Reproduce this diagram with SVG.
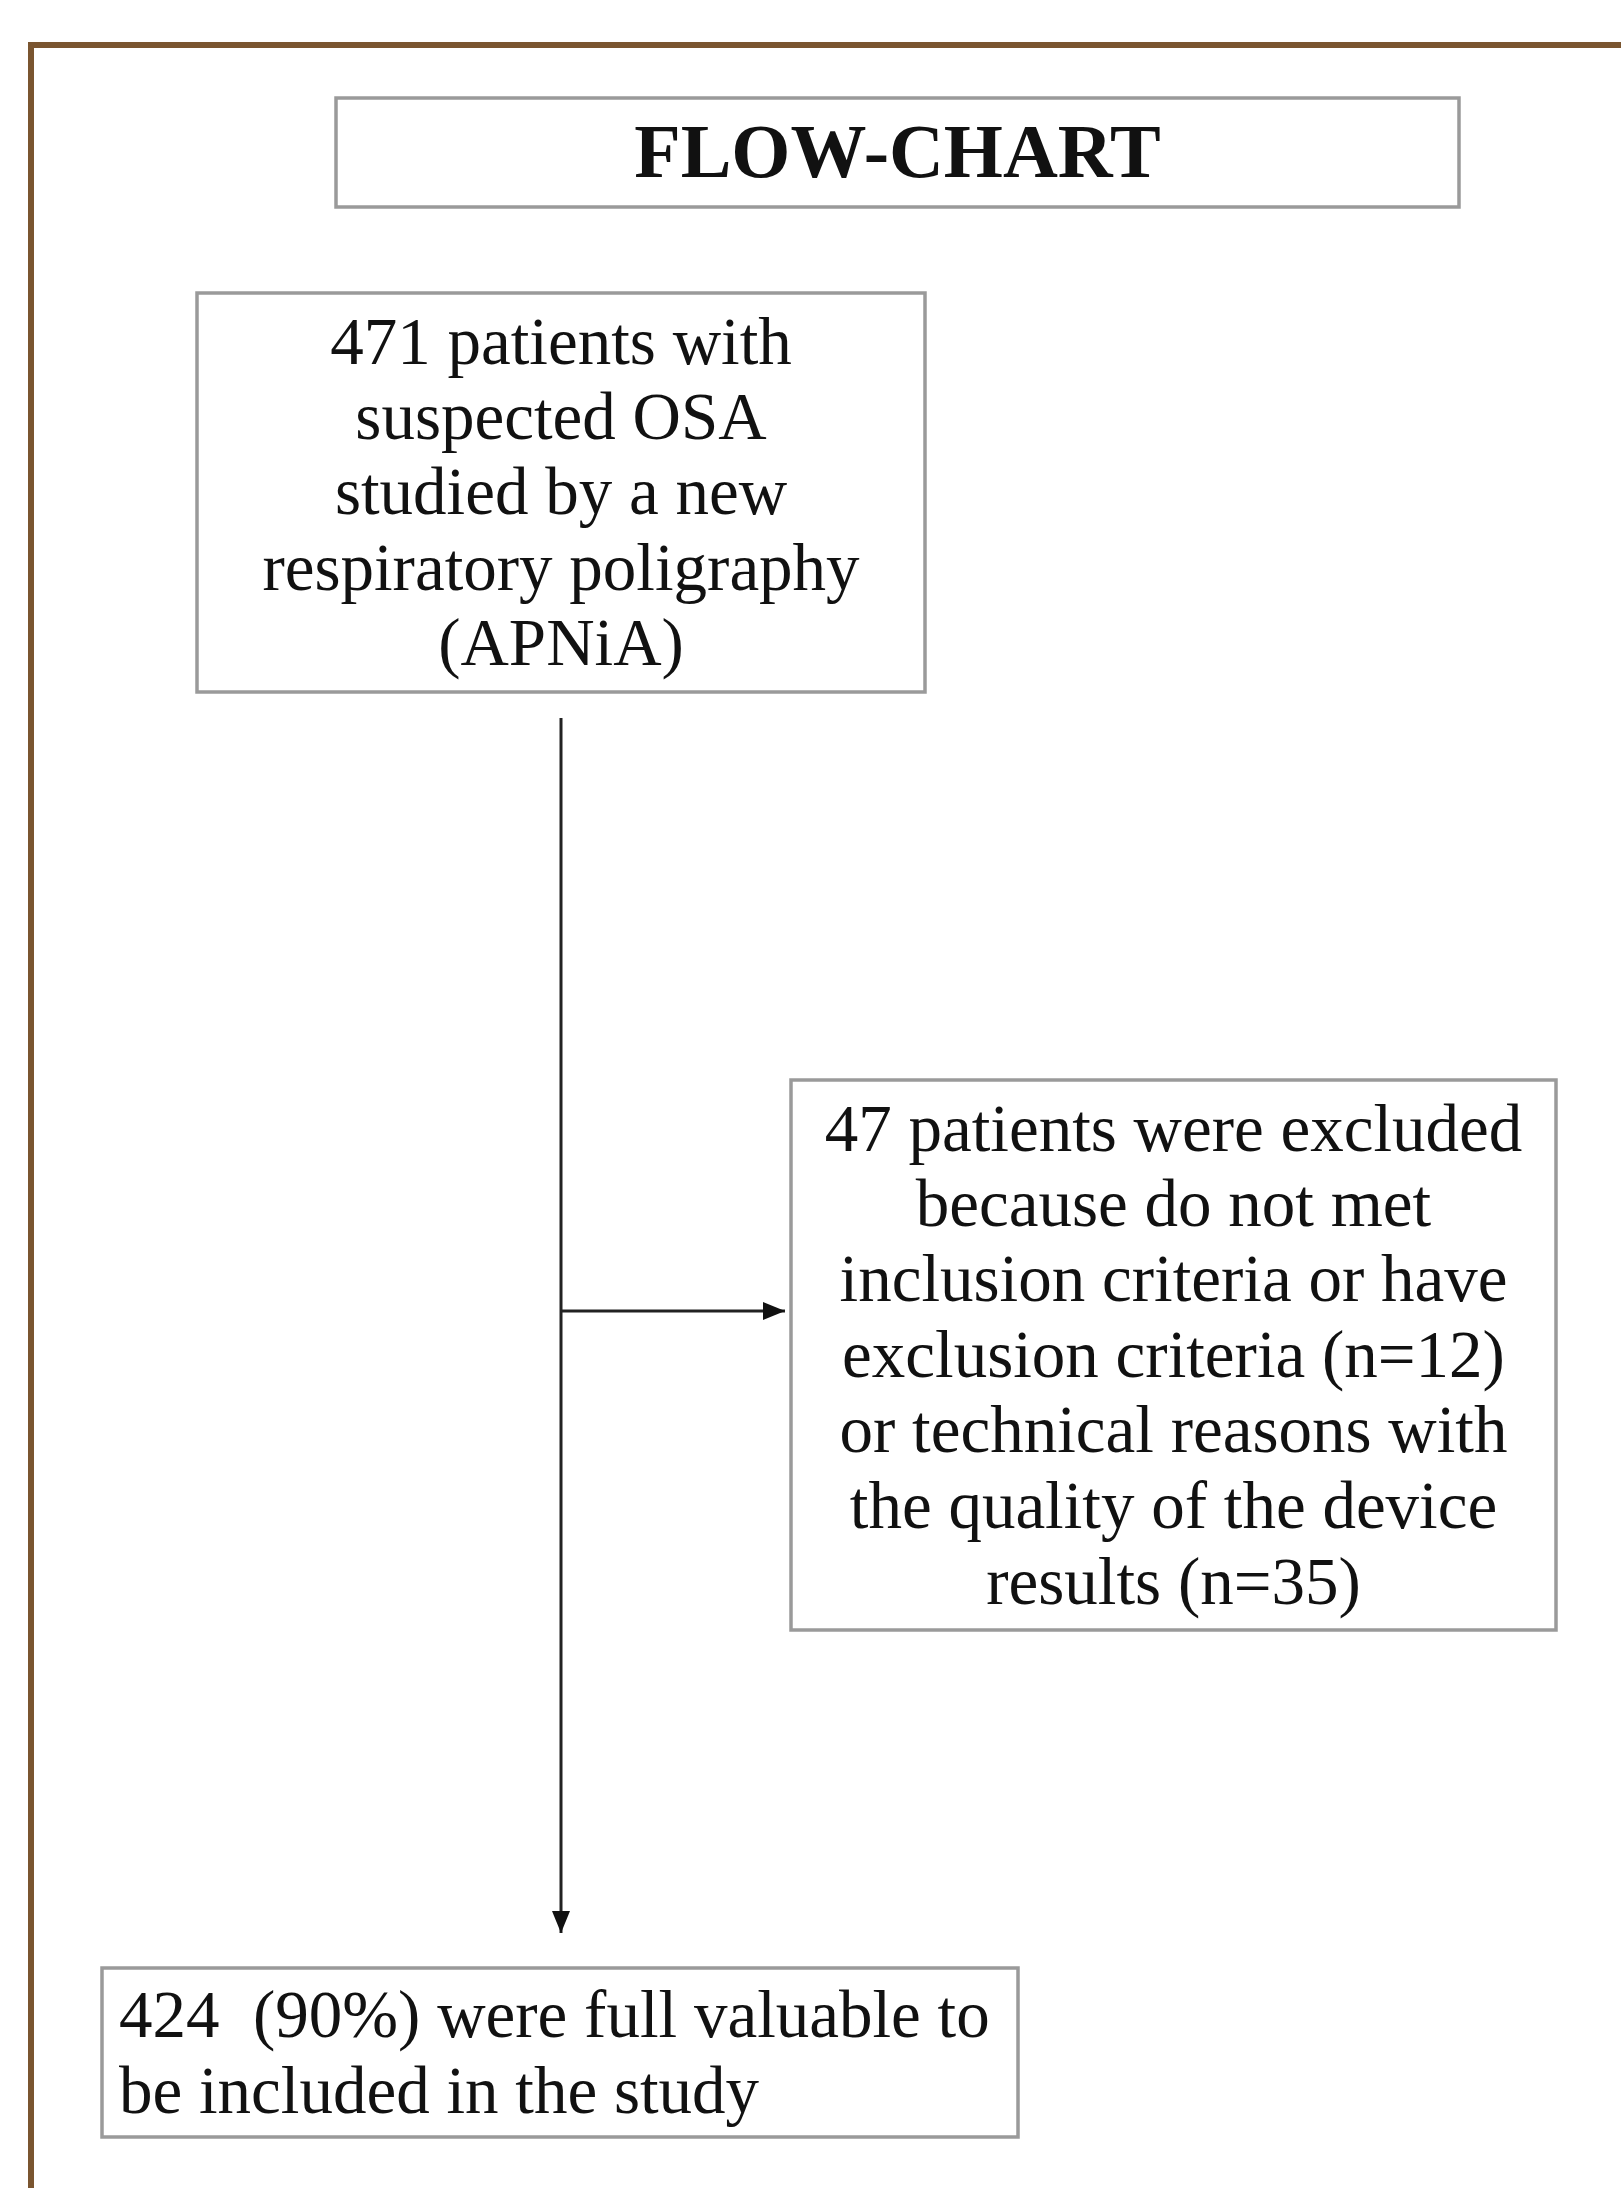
<svg xmlns="http://www.w3.org/2000/svg" width="1621" height="2188" viewBox="0 0 1621 2188">
<style>
.frame{fill:none;stroke:#7a5530;stroke-width:6}
.box{fill:#ffffff;stroke:#9a9a9a;stroke-width:3.5}
.t{font-family:"Liberation Serif","Times New Roman",serif;font-size:67px;fill:#111111}
.c{text-anchor:middle}
.title{font-family:"Liberation Serif","Times New Roman",serif;font-size:76px;font-weight:bold;fill:#111111;text-anchor:middle}
.conn{fill:none;stroke:#222222;stroke-width:3}
</style>
<defs>
<marker id="ah" viewBox="0 0 22 18" refX="22" refY="9" markerWidth="22" markerHeight="18" markerUnits="userSpaceOnUse" orient="auto">
<path d="M0,0 L22,9 L0,18 z" fill="#111111"/>
</marker>
</defs>
<rect x="0" y="0" width="1621" height="2188" fill="#ffffff"/>
<rect class="frame" x="31" y="45" width="1640" height="2200"/>
<g id="title">
<rect class="box" x="336" y="98" width="1123" height="109"/>
<text class="title" x="897.5" y="177">FLOW-CHART</text>
</g>
<g id="n1">
<rect class="box" x="197" y="293" width="728" height="399"/>
<text class="t c" x="561" y="364">471 patients with</text>
<text class="t c" x="561" y="439">suspected OSA</text>
<text class="t c" x="561" y="514">studied by a new</text>
<text class="t c" x="561" y="590">respiratory poligraphy</text>
<text class="t c" x="561" y="665">(APNiA)</text>
</g>
<g id="n2">
<rect class="box" x="791" y="1080" width="765" height="550"/>
<text class="t c" x="1173.5" y="1151">47 patients were excluded</text>
<text class="t c" x="1173.5" y="1226">because do not met</text>
<text class="t c" x="1173.5" y="1301">inclusion criteria or have</text>
<text class="t c" x="1173.5" y="1377">exclusion criteria (n=12)</text>
<text class="t c" x="1173.5" y="1452">or technical reasons with</text>
<text class="t c" x="1173.5" y="1528">the quality of the device</text>
<text class="t c" x="1173.5" y="1604">results (n=35)</text>
</g>
<g id="n3">
<rect class="box" x="102" y="1968" width="916" height="169"/>
<text class="t" x="119" y="2037" xml:space="preserve">424  (90%) were full valuable to</text>
<text class="t" x="119" y="2113">be included in the study</text>
</g>
<g id="connectors">
<path class="conn" d="M561,718 L561,1933" marker-end="url(#ah)"/>
<path class="conn" d="M561,1311 L785,1311" marker-end="url(#ah)"/>
</g>
</svg>
